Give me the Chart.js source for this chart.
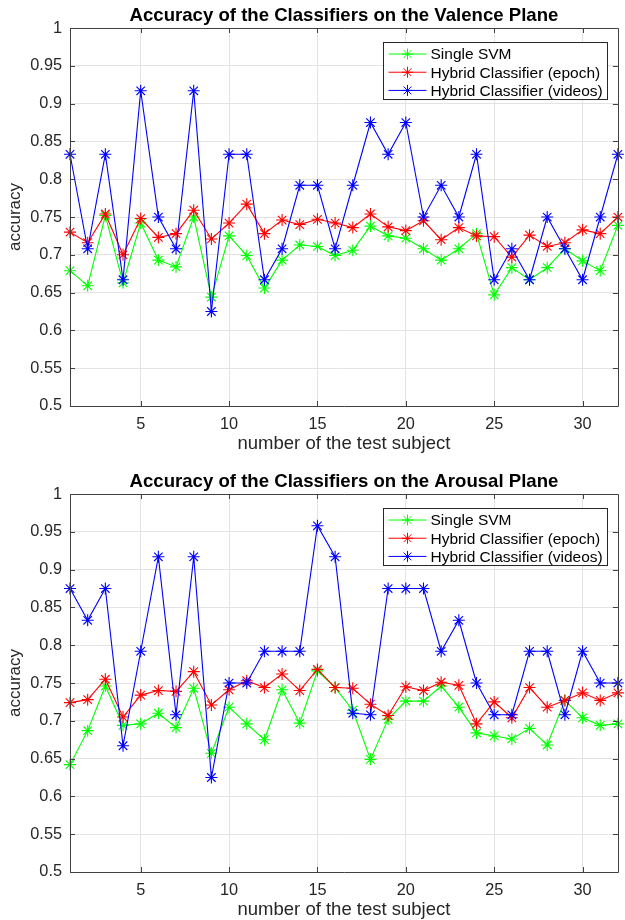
<!DOCTYPE html>
<html>
<head>
<meta charset="utf-8">
<script src="https://cdn.jsdelivr.net/npm/chart.js@4.4.1/dist/chart.umd.min.js"></script>
<style>
  html, body { margin: 0; padding: 0; background: #fff; overflow: hidden; }
  .box { position: absolute; left: 0; width: 625px; height: 460px; }
  #wrap1 { top: 0; }
  #wrap2 { top: 466px; }
</style>
</head>
<body>
<div class="box" id="wrap1"><canvas id="valenceChart" width="625" height="460"></canvas></div>
<div class="box" id="wrap2"><canvas id="arousalChart" width="625" height="460"></canvas></div>
<script>
// test subjects 1..32
const subjects = Array.from({ length: 32 }, (_, i) => i + 1);
const xTicks = [5, 10, 15, 20, 25, 30];
const seriesNames = ['Single SVM', 'Hybrid Classifier (epoch)', 'Hybrid Classifier (videos)'];

// Valence plane
const valenceSvm = [0.679, 0.659, 0.752, 0.663, 0.742, 0.693, 0.684, 0.750, 0.644, 0.725, 0.699, 0.656, 0.693, 0.713, 0.711, 0.699,
    0.706, 0.738, 0.725, 0.722, 0.708, 0.693, 0.708, 0.728, 0.647, 0.683, 0.667, 0.683, 0.708, 0.692, 0.679, 0.739];
const valenceEpoch = [0.730, 0.716, 0.754, 0.700, 0.748, 0.723, 0.728, 0.759, 0.721, 0.742, 0.767, 0.728, 0.746, 0.740, 0.747, 0.742,
    0.736, 0.754, 0.737, 0.732, 0.745, 0.720, 0.736, 0.725, 0.724, 0.697, 0.726, 0.711, 0.716, 0.733, 0.728, 0.750];
const valenceVideos = [0.833, 0.708, 0.833, 0.667, 0.917, 0.750, 0.708, 0.917, 0.625, 0.833, 0.833, 0.667, 0.708, 0.792, 0.792, 0.708,
    0.792, 0.875, 0.833, 0.875, 0.750, 0.792, 0.750, 0.833, 0.667, 0.708, 0.667, 0.750, 0.708, 0.667, 0.750, 0.833];

// Arousal plane
const arousalSvm = [0.642, 0.687, 0.746, 0.694, 0.696, 0.710, 0.691, 0.743, 0.657, 0.718, 0.696, 0.675, 0.741, 0.697, 0.766, 0.744,
    0.714, 0.649, 0.702, 0.726, 0.726, 0.746, 0.718, 0.684, 0.680, 0.676, 0.690, 0.668, 0.727, 0.704, 0.694, 0.696];
const arousalEpoch = [0.724, 0.728, 0.755, 0.705, 0.734, 0.740, 0.739, 0.765, 0.721, 0.741, 0.753, 0.744, 0.762, 0.740, 0.768, 0.744,
    0.743, 0.722, 0.707, 0.745, 0.740, 0.751, 0.747, 0.696, 0.725, 0.704, 0.744, 0.718, 0.727, 0.737, 0.727, 0.737];
const arousalVideos = [0.875, 0.833, 0.875, 0.667, 0.792, 0.917, 0.708, 0.917, 0.625, 0.750, 0.750, 0.792, 0.792, 0.792, 0.958, 0.917,
    0.710, 0.708, 0.875, 0.875, 0.875, 0.792, 0.833, 0.750, 0.708, 0.708, 0.792, 0.792, 0.708, 0.792, 0.750, 0.750];

const colors = ['#00ff00', '#ff0000', '#0000ff'];
const axisColor = '#404040';
const fontFamily = '"Liberation Sans", Arial, Helvetica, sans-serif';

// matlab-ish box with inward ticks + legend in the upper right
const boxPlugin = {
    id: 'matlabBox',
    afterDraw(chart) {
        const { ctx, chartArea: a, scales } = chart;
        ctx.save();
        ctx.strokeStyle = axisColor;
        ctx.lineWidth = 1;
        ctx.beginPath();
        ctx.rect(Math.round(a.left) + 0.5, Math.round(a.top) + 0.5, Math.round(a.right - a.left), Math.round(a.bottom - a.top));
        ctx.stroke();
        const t = 5;
        ctx.beginPath();
        scales.x.ticks.forEach(tk => {
            const px = Math.round(scales.x.getPixelForValue(tk.value)) + 0.5;
            ctx.moveTo(px, a.bottom); ctx.lineTo(px, a.bottom - t);
            ctx.moveTo(px, a.top); ctx.lineTo(px, a.top + t);
        });
        scales.y.ticks.forEach(tk => {
            const py = Math.round(scales.y.getPixelForValue(tk.value)) + 0.5;
            ctx.moveTo(a.left, py); ctx.lineTo(a.left + t, py);
            ctx.moveTo(a.right, py); ctx.lineTo(a.right - t, py);
        });
        ctx.stroke();

        // legend
        const lx = 383.5, ly = a.top + 14.5, lw = 224, lh = 57;
        ctx.fillStyle = '#fff';
        ctx.fillRect(lx, ly, lw, lh);
        ctx.strokeStyle = '#262626';
        ctx.strokeRect(lx, ly, lw, lh);
        ctx.font = '15.5px ' + fontFamily;
        ctx.textBaseline = 'middle';
        chart.data.datasets.forEach((ds, i) => {
            const y = ly + 11.5 + i * 18.2;
            ctx.strokeStyle = ds.borderColor;
            ctx.lineWidth = 1;
            ctx.beginPath();
            ctx.moveTo(lx + 5, y); ctx.lineTo(lx + 43, y);
            ctx.stroke();
            const r = 5.5, mx = lx + 24;
            ctx.beginPath();
            ctx.moveTo(mx - r, y); ctx.lineTo(mx + r, y);
            ctx.moveTo(mx, y - r); ctx.lineTo(mx, y + r);
            const d = r * 0.707;
            ctx.moveTo(mx - d, y - d); ctx.lineTo(mx + d, y + d);
            ctx.moveTo(mx - d, y + d); ctx.lineTo(mx + d, y - d);
            ctx.stroke();
            ctx.fillStyle = '#000';
            ctx.fillText(ds.label, lx + 47, y + 1);
        });
        ctx.restore();
    }
};

function makeDataset(label, values, color, order) {
    return {
        label: label,
        data: subjects.map((s, i) => ({ x: s, y: values[i] })),
        borderColor: color,
        backgroundColor: color,
        borderWidth: 1.1,
        pointStyle: 'star',
        pointRadius: 6,
        pointHoverRadius: 6,
        pointBorderWidth: 1.1,
        pointBorderColor: color,
        tension: 0,
        clip: false,
        order: order
    };
}

function makeChart(canvasId, title, svm, epoch, videos) {
    const ctx = document.getElementById(canvasId).getContext('2d');
    return new Chart(ctx, {
        type: 'line',
        data: {
            datasets: [
                makeDataset(seriesNames[0], svm, colors[0], 3),
                makeDataset(seriesNames[1], epoch, colors[1], 2),
                makeDataset(seriesNames[2], videos, colors[2], 1)
            ]
        },
        options: {
            responsive: false,
            animation: false,
            layout: { padding: { left: 0, right: 1, top: 0, bottom: 0 } },
            plugins: {
                legend: { display: false },
                tooltip: { enabled: false },
                title: {
                    display: true,
                    fullSize: false,
                    text: title,
                    color: '#000',
                    font: { family: fontFamily, size: 18.6, weight: 'bold' },
                    padding: { top: 5, bottom: 0.7 }
                }
            },
            scales: {
                x: {
                    type: 'linear',
                    min: 1,
                    max: 32,
                    afterBuildTicks: axis => { axis.ticks = xTicks.map(v => ({ value: v })); },
                    afterFit: axis => { axis.height = 54; },
                    grid: { color: '#e3e3e3', drawTicks: false },
                    border: { display: false },
                    ticks: { color: '#262626', padding: 9, font: { family: fontFamily, size: 16.3 }, maxRotation: 0 },
                    title: {
                        display: true,
                        text: 'number of the test subject',
                        color: '#262626',
                        font: { family: fontFamily, size: 18.5 },
                        padding: { top: 0, bottom: 5 }
                    }
                },
                y: {
                    min: 0.5,
                    max: 1,
                    afterFit: axis => { axis.width = 70; },
                    grid: { color: '#e3e3e3', drawTicks: false },
                    border: { display: false },
                    ticks: {
                        stepSize: 0.05,
                        color: '#262626',
                        padding: 8,
                        font: { family: fontFamily, size: 16.3 },
                        callback: v => String(parseFloat(v.toFixed(2)))
                    },
                    title: {
                        display: true,
                        text: 'accuracy',
                        color: '#262626',
                        font: { family: fontFamily, size: 17 },
                        padding: { top: 5, bottom: 0 }
                    }
                }
            }
        },
        plugins: [boxPlugin]
    });
}

makeChart('valenceChart', 'Accuracy of the Classifiers on the Valence Plane', valenceSvm, valenceEpoch, valenceVideos);
makeChart('arousalChart', 'Accuracy of the Classifiers on the Arousal Plane', arousalSvm, arousalEpoch, arousalVideos);
</script>
</body>
</html>
